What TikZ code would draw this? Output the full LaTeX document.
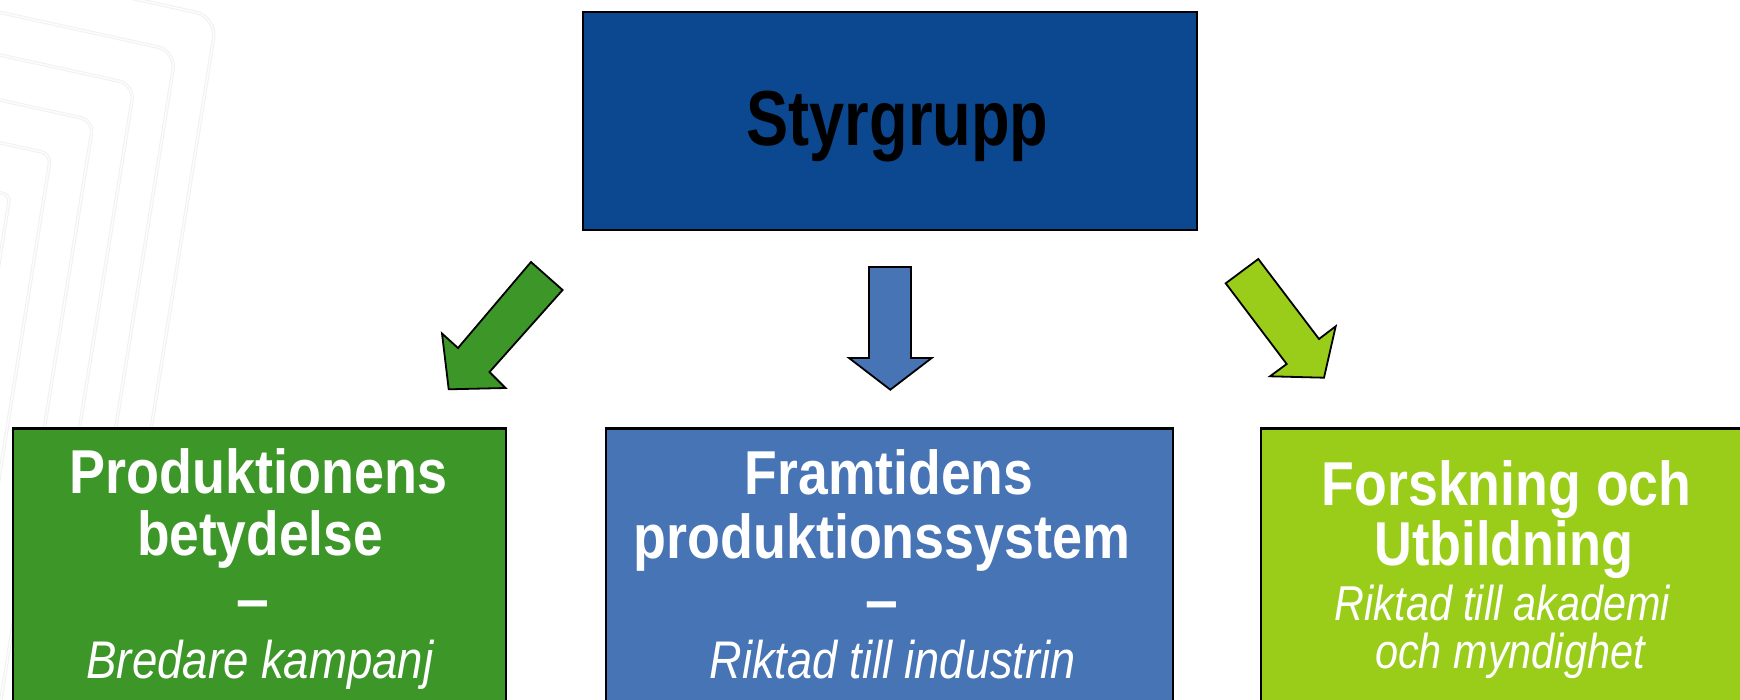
\documentclass[tikz,border=0pt]{standalone}
\usepackage{fontspec}
\setmainfont{Liberation Sans}
\usepackage{graphicx}
\definecolor{cnavy}{RGB}{11,72,144}
\definecolor{cgreen}{RGB}{61,150,40}
\definecolor{cblue}{RGB}{70,116,181}
\definecolor{clime}{RGB}{153,205,25}
\newcommand\squeeze[2]{\scalebox{#1}[1]{#2}}
\tikzset{
  box/.style={draw=black, line width=2.2pt, rectangle, inner sep=0pt, anchor=north west},
  blockarrow/.style={draw=black, line width=1.8pt, line join=miter},
  head/.style={anchor=base, text=white, inner sep=0pt, font=\fontsize{62}{62}\selectfont\bfseries},
  sub/.style={anchor=base, text=white, inner sep=0pt, font=\fontsize{53}{53}\selectfont\itshape},
  subsmall/.style={anchor=base, text=white, inner sep=0pt, font=\fontsize{49}{49}\selectfont\itshape},
  title/.style={anchor=base, text=black, inner sep=0pt, font=\fontsize{78}{78}\selectfont\bfseries},
  bgline/.style={draw=black!6, double=black!1, line width=0.9pt, double distance=1.6pt},
}
\begin{document}
\begin{tikzpicture}[x=1pt,y=-1pt]
\useasboundingbox (0,0) rectangle (1740,699);
\clip (0,0) rectangle (1740,699);
\fill[white] (0,0) rectangle (1740,699);
% background decoration
\draw[bgline, rounded corners=22] (-20,-35) -- (217,17) -- (104.5,720);
\draw[bgline, rounded corners=19] (-20,8) -- (176,51) -- (69,720);
\draw[bgline, rounded corners=16] (-20,50.6) -- (134.5,84.6) -- (32.8,720);
\draw[bgline, rounded corners=13] (-20,95.6) -- (93.6,120.6) -- (-2.3,720);
\draw[bgline, rounded corners=10] (-20,138.4) -- (51,154) -- (-39.6,720);
\draw[bgline, rounded corners=7] (-20,188.4) -- (10,195) -- (-74,720);
% top box
\node[box, fill=cnavy, minimum width=614.5, minimum height=218] (sty) at (581.5,11) {};
\node[title] (styt) at (897.5,145) {\squeeze{0.81}{Styrgrupp}};
% bottom boxes
\node[box, fill=cgreen, minimum width=492.8, minimum height=320] (lbox) at (11.7,427.3) {};
\node[box, fill=cblue, minimum width=567, minimum height=320] (mbox) at (605,427.3) {};
\node[box, fill=clime, minimum width=500, minimum height=320] (rbox) at (1260,427.3) {};
% arrows
\draw[blockarrow, fill=cgreen] (531,262) -- (562.6,290) -- (489.5,372) -- (505.5,388)
  -- (448.7,389.3) -- (442,333.5) -- (458,348) -- cycle;
\draw[blockarrow, fill=cblue] (869,267) -- (911,267) -- (911,358) -- (931.7,358)
  -- (890.3,389.7) -- (849,358) -- (869,358) -- cycle;
\draw[blockarrow, fill=clime] (1225.7,283.3) -- (1258.3,259) -- (1319,339) -- (1335.7,326.3)
  -- (1324,377.7) -- (1270,376.3) -- (1286.7,364) -- cycle;
% left box text
\node[head] (l1) at (258.3,493.5) {\squeeze{0.87}{Produktionens}};
\node[head] (l2) at (260,555) {\squeeze{0.86}{betydelse}};
\node[head] (l3) at (252.5,620.5) {\squeeze{0.95}{–}};
\node[sub] (l4) at (260,678.3) {\squeeze{0.86}{Bredare kampanj}};
% middle box text
\node[head] (m1) at (889,494) {\squeeze{0.863}{Framtidens}};
\node[head] (m2) at (882,558.3) {\squeeze{0.869}{produktionssystem}};
\node[head] (m3) at (881.7,621.5) {\squeeze{0.95}{–}};
\node[sub] (m4) at (892.5,678.3) {\squeeze{0.85}{Riktad till industrin}};
% right box text
\node[head] (r1) at (1506.7,505) {\squeeze{0.866}{Forskning och}};
\node[head] (r2) at (1504,565) {\squeeze{0.843}{Utbildning}};
\node[subsmall] (r3) at (1502.5,620) {\squeeze{0.843}{Riktad till akademi}};
\node[subsmall] (r4) at (1510,668.3) {\squeeze{0.847}{och myndighet}};
\end{tikzpicture}
\end{document}
